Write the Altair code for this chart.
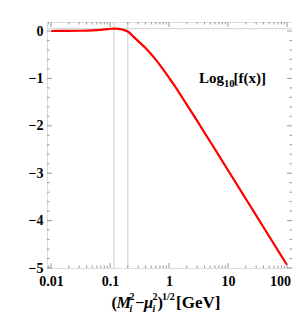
import altair as alt
import pandas as pd

# curve: x in GeV, y = Log10[f(x)]
xs = [0.01, 0.02, 0.03, 0.05, 0.07, 0.09, 0.117, 0.14, 0.17, 0.2, 0.25, 0.32,
      0.4, 0.5, 0.61, 0.8, 1.0, 1.3, 1.6, 2.2, 3.0, 5.0, 8.0, 13.0,
      20.0, 33.0, 50.0, 70.0, 100.0]
ys = [0.0, 0.002, 0.005, 0.013, 0.025, 0.04, 0.05, 0.045, 0.023, -0.01, -0.118, -0.245,
      -0.36, -0.49, -0.62, -0.815, -0.985, -1.19, -1.364, -1.632, -1.897, -2.337,
      -2.744, -3.165, -3.539, -3.974, -4.335, -4.627, -4.937]

vlines = [0.117, 0.2]
hlines = [0.05]

x_major = [0.01, 0.1, 1, 10, 100]
x_minor = [0.009, 0.02, 0.03, 0.04, 0.05, 0.06, 0.07, 0.08, 0.09,
           0.2, 0.3, 0.4, 0.5, 0.6, 0.7, 0.8, 0.9,
           2, 3, 4, 5, 6, 7, 8, 9,
           20, 30, 40, 50, 60, 70, 80, 90]
y_major = [0, -1, -2, -3, -4, -5]
y_minor = [-0.2, -0.4, -0.6, -0.8, -1.2, -1.4, -1.6, -1.8, -2.2, -2.4, -2.6, -2.8,
           -3.2, -3.4, -3.6, -3.8, -4.2, -4.4, -4.6, -4.8]

W, H = 245, 246
FONT = "Liberation Serif"
FRAME = "#999999"

xscale = alt.Scale(type="log", domain=[0.00856, 121.4], nice=False)
yscale = alt.Scale(domain=[-5.0, 0.19], nice=False, zero=False)

curve_df = pd.DataFrame({"x": xs, "y": ys})

xaxis = alt.Axis(values=x_major, format="~g", ticks=False, domain=False, grid=False,
                 labelFont=FONT, labelFontWeight="bold", labelFontSize=14,
                 labelColor="black", labelBaseline="alphabetic", labelPadding=17,
                 labelFlush=False, labelOverlap=False, title=None,
                 labelOffset=alt.ExprRef("datum.value == 100 ? -7 : 0"))
yaxis = alt.Axis(values=y_major, format="d", ticks=False, domain=False, grid=False,
                 labelFont=FONT, labelFontWeight="bold", labelFontSize=14,
                 labelColor="black", labelPadding=4, title=None)

grid_v = alt.Chart(pd.DataFrame({"x": vlines})).mark_rule(
    color="#d9d9d9", strokeWidth=1.3).encode(
    x=alt.X("x:Q", scale=xscale, axis=xaxis))
grid_h = alt.Chart(pd.DataFrame({"y": hlines})).mark_rule(
    color="#d9d9d9", strokeWidth=1.3).encode(
    y=alt.Y("y:Q", scale=yscale, axis=yaxis))

line = alt.Chart(curve_df).mark_line(color="#ff0000", strokeWidth=2.2,
                                     interpolate="monotone").encode(
    x=alt.X("x:Q", scale=xscale),
    y=alt.Y("y:Q", scale=yscale))


def xticks(vals, length):
    d = pd.DataFrame({"x": vals})
    bot = alt.Chart(d).mark_rule(color=FRAME, strokeWidth=1).encode(
        x=alt.X("x:Q", scale=xscale), y=alt.value(H), y2=alt.value(H - length))
    top = alt.Chart(d).mark_rule(color=FRAME, strokeWidth=1).encode(
        x=alt.X("x:Q", scale=xscale), y=alt.value(0), y2=alt.value(length))
    return [bot, top]


def yticks(vals, length):
    d = pd.DataFrame({"y": vals})
    left = alt.Chart(d).mark_rule(color=FRAME, strokeWidth=1).encode(
        y=alt.Y("y:Q", scale=yscale), x=alt.value(0), x2=alt.value(length))
    right = alt.Chart(d).mark_rule(color=FRAME, strokeWidth=1).encode(
        y=alt.Y("y:Q", scale=yscale), x=alt.value(W), x2=alt.value(W - length))
    return [left, right]


ticks = xticks(x_major, 5) + xticks(x_minor, 2.5) + yticks(y_major, 5) + yticks(y_minor, 2.5)

one = pd.DataFrame({"a": [0]})


def label(txt, px, py, size=14, italic=False):
    return alt.Chart(one).mark_text(
        text=txt, align="left", baseline="alphabetic", font=FONT,
        fontWeight="bold", fontStyle="italic" if italic else "normal",
        fontSize=size, color="black").encode(x=alt.value(px), y=alt.value(py))


TS = 16.5   # title size
SS = 10     # sub/superscript size
BL = 285.5  # title baseline (plot coords)
texts = [
    label("Log", 152, 61, size=15),
    label("10", 177, 65, size=10.5),
    label("[f(x)]", 186.5, 61, size=15),
    # x title: (M_i^2 - mu_i^2)^(1/2) [GeV]
    label("(", 64.5, BL, size=TS),
    label("M", 69.5, BL, size=TS, italic=True),
    label("2", 82.5, BL - 7.5, size=SS),
    label("i", 82.5, BL + 4, size=SS, italic=True),
    label("\u2212", 88, BL, size=TS),
    label("\u03bc", 97, BL, size=TS, italic=True),
    label("2", 105.5, BL - 7.5, size=SS),
    label("i", 105.5, BL + 4, size=SS, italic=True),
    label(")", 110.5, BL, size=TS),
    label("1/2", 115, BL - 7.5, size=10),
    label("[GeV]", 129, BL, size=17),
]

chart = alt.layer(grid_v, grid_h, line, *ticks, *texts).properties(
    width=W, height=H,
    autosize=alt.AutoSizeParams(type="none"),
    padding={"left": 39, "top": 14, "right": 0, "bottom": 48},
).configure_view(stroke=FRAME, strokeWidth=1).configure(background="white")

chart.save("out.html", embed_options={"renderer": "svg", "actions": False})
